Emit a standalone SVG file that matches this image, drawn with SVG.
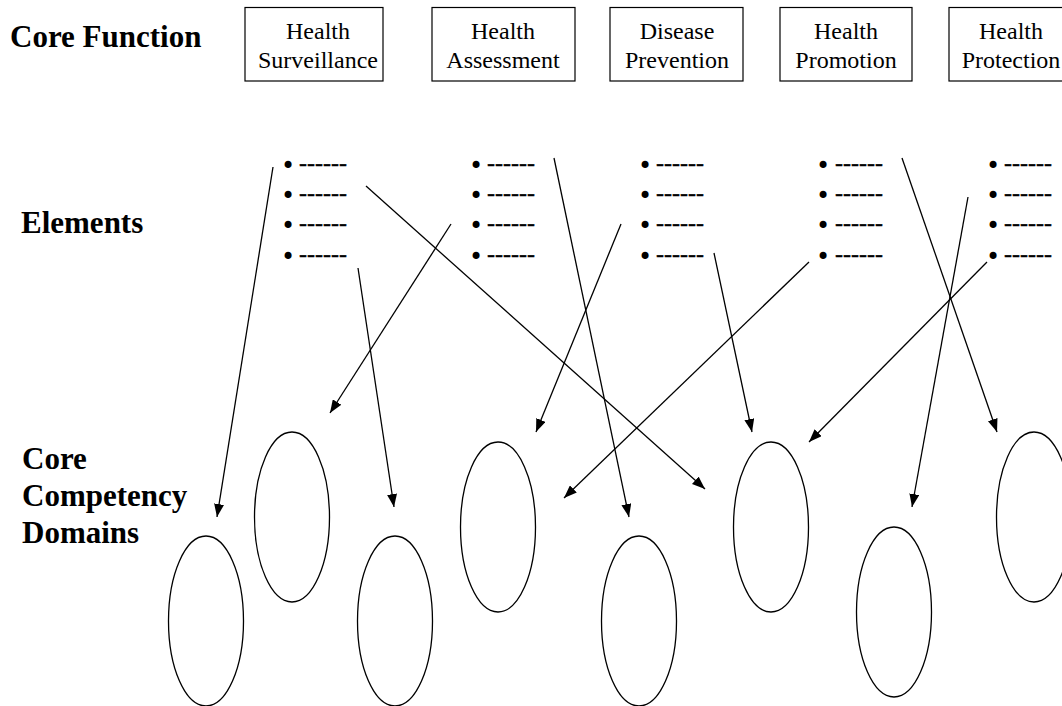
<svg xmlns="http://www.w3.org/2000/svg" width="1062" height="706" viewBox="0 0 1062 706">
  <style>
    .bg { fill: #ffffff; }
    .row-label { font-family: "Liberation Serif", "Times New Roman", serif; font-weight: bold; font-size: 31px; fill: #000; }
    .box { fill: #ffffff; stroke: #000; stroke-width: 1.2; }
    .box-text { font-family: "Liberation Serif", "Times New Roman", serif; font-size: 24px; fill: #000; text-anchor: middle; }
    .item { font-family: "Liberation Serif", "Times New Roman", serif; font-size: 24px; fill: #000; }
    .item .dot { font-family: "DejaVu Sans", sans-serif; }
    .item .dash { stroke: #000; stroke-width: 0.35; }
    .domain { fill: none; stroke: #000; stroke-width: 1.3; }
    .link { fill: none; stroke: #000; stroke-width: 1.3; marker-end: url(#arrow); }
  </style>
  <defs>
    <marker id="arrow" viewBox="0 0 13 10" refX="13" refY="5" markerWidth="13" markerHeight="10" markerUnits="userSpaceOnUse" orient="auto">
      <path d="M0,0 L13,5 L0,10 z" fill="#000"/>
    </marker>
  </defs>

  <rect class="bg" x="0" y="0" width="1062" height="706"/>

  <!-- Row headings -->
  <g id="row-labels">
    <text class="row-label" x="10" y="47">Core Function</text>
    <text class="row-label" x="21" y="233">Elements</text>
    <text class="row-label" x="22" y="469">Core</text>
    <text class="row-label" x="22" y="506">Competency</text>
    <text class="row-label" x="22" y="543">Domains</text>
  </g>

  <!-- Core functions -->
  <g id="fn-surveillance">
    <rect class="box" x="245" y="7.5" width="138" height="73.5"/>
    <text class="box-text" x="318" y="39">Health</text>
    <text class="box-text" x="318" y="68">Surveillance</text>
  </g>
  <g id="fn-assessment">
    <rect class="box" x="432" y="7.5" width="143" height="73.5"/>
    <text class="box-text" x="503" y="39">Health</text>
    <text class="box-text" x="503" y="68">Assessment</text>
  </g>
  <g id="fn-prevention">
    <rect class="box" x="610" y="7.5" width="133" height="73.5"/>
    <text class="box-text" x="677" y="39">Disease</text>
    <text class="box-text" x="677" y="68">Prevention</text>
  </g>
  <g id="fn-promotion">
    <rect class="box" x="780" y="7.5" width="132" height="73.5"/>
    <text class="box-text" x="846" y="39">Health</text>
    <text class="box-text" x="846" y="68">Promotion</text>
  </g>
  <g id="fn-protection">
    <rect class="box" x="949" y="7.5" width="130" height="73.5"/>
    <text class="box-text" x="1011" y="39">Health</text>
    <text class="box-text" x="1011" y="68">Protection</text>
  </g>

  <!-- Element lists: bullet + placeholder dashes, four rows each -->
  <g id="elements-surveillance">
    <text class="item" y="171"><tspan class="dot" x="281" dy="3">•</tspan><tspan class="dash" x="299" dy="-3">------</tspan></text>
    <text class="item" y="201"><tspan class="dot" x="281" dy="3">•</tspan><tspan class="dash" x="299" dy="-3">------</tspan></text>
    <text class="item" y="231"><tspan class="dot" x="281" dy="3">•</tspan><tspan class="dash" x="299" dy="-3">------</tspan></text>
    <text class="item" y="262"><tspan class="dot" x="281" dy="3">•</tspan><tspan class="dash" x="299" dy="-3">------</tspan></text>
  </g>
  <g id="elements-assessment">
    <text class="item" y="171"><tspan class="dot" x="469" dy="3">•</tspan><tspan class="dash" x="487" dy="-3">------</tspan></text>
    <text class="item" y="201"><tspan class="dot" x="469" dy="3">•</tspan><tspan class="dash" x="487" dy="-3">------</tspan></text>
    <text class="item" y="231"><tspan class="dot" x="469" dy="3">•</tspan><tspan class="dash" x="487" dy="-3">------</tspan></text>
    <text class="item" y="262"><tspan class="dot" x="469" dy="3">•</tspan><tspan class="dash" x="487" dy="-3">------</tspan></text>
  </g>
  <g id="elements-prevention">
    <text class="item" y="171"><tspan class="dot" x="638" dy="3">•</tspan><tspan class="dash" x="656" dy="-3">------</tspan></text>
    <text class="item" y="201"><tspan class="dot" x="638" dy="3">•</tspan><tspan class="dash" x="656" dy="-3">------</tspan></text>
    <text class="item" y="231"><tspan class="dot" x="638" dy="3">•</tspan><tspan class="dash" x="656" dy="-3">------</tspan></text>
    <text class="item" y="262"><tspan class="dot" x="638" dy="3">•</tspan><tspan class="dash" x="656" dy="-3">------</tspan></text>
  </g>
  <g id="elements-promotion">
    <text class="item" y="171"><tspan class="dot" x="816" dy="3">•</tspan><tspan class="dash" x="835" dy="-3">------</tspan></text>
    <text class="item" y="201"><tspan class="dot" x="816" dy="3">•</tspan><tspan class="dash" x="835" dy="-3">------</tspan></text>
    <text class="item" y="231"><tspan class="dot" x="816" dy="3">•</tspan><tspan class="dash" x="835" dy="-3">------</tspan></text>
    <text class="item" y="262"><tspan class="dot" x="816" dy="3">•</tspan><tspan class="dash" x="835" dy="-3">------</tspan></text>
  </g>
  <g id="elements-protection">
    <text class="item" y="171"><tspan class="dot" x="986" dy="3">•</tspan><tspan class="dash" x="1004" dy="-3">------</tspan></text>
    <text class="item" y="201"><tspan class="dot" x="986" dy="3">•</tspan><tspan class="dash" x="1004" dy="-3">------</tspan></text>
    <text class="item" y="231"><tspan class="dot" x="986" dy="3">•</tspan><tspan class="dash" x="1004" dy="-3">------</tspan></text>
    <text class="item" y="262"><tspan class="dot" x="986" dy="3">•</tspan><tspan class="dash" x="1004" dy="-3">------</tspan></text>
  </g>

  <!-- Core competency domains -->
  <g id="domain-1"><ellipse class="domain" cx="206" cy="621" rx="37.5" ry="85"/></g>
  <g id="domain-2"><ellipse class="domain" cx="292" cy="517" rx="37.5" ry="85"/></g>
  <g id="domain-3"><ellipse class="domain" cx="395" cy="621" rx="37.5" ry="85"/></g>
  <g id="domain-4"><ellipse class="domain" cx="498" cy="527" rx="37.5" ry="85"/></g>
  <g id="domain-5"><ellipse class="domain" cx="639" cy="621" rx="37.5" ry="85"/></g>
  <g id="domain-6"><ellipse class="domain" cx="771" cy="527" rx="37.5" ry="85"/></g>
  <g id="domain-7"><ellipse class="domain" cx="894" cy="612" rx="37.5" ry="85"/></g>
  <g id="domain-8"><ellipse class="domain" cx="1034" cy="517" rx="37.5" ry="85"/></g>

  <!-- Element-to-domain links -->
  <g id="connectors">
    <line class="link" x1="273" y1="167" x2="217" y2="517"/>
    <line class="link" x1="366" y1="186" x2="705" y2="489"/>
    <line class="link" x1="451" y1="224" x2="330" y2="413"/>
    <line class="link" x1="358" y1="268" x2="394" y2="507"/>
    <line class="link" x1="554" y1="158" x2="629" y2="517"/>
    <line class="link" x1="621" y1="224" x2="536" y2="432"/>
    <line class="link" x1="714" y1="253" x2="752" y2="432"/>
    <line class="link" x1="809" y1="262" x2="564" y2="498"/>
    <line class="link" x1="902" y1="158" x2="997" y2="432"/>
    <line class="link" x1="968" y1="197" x2="912" y2="507"/>
    <line class="link" x1="987" y1="262" x2="809" y2="442"/>
  </g>
</svg>
